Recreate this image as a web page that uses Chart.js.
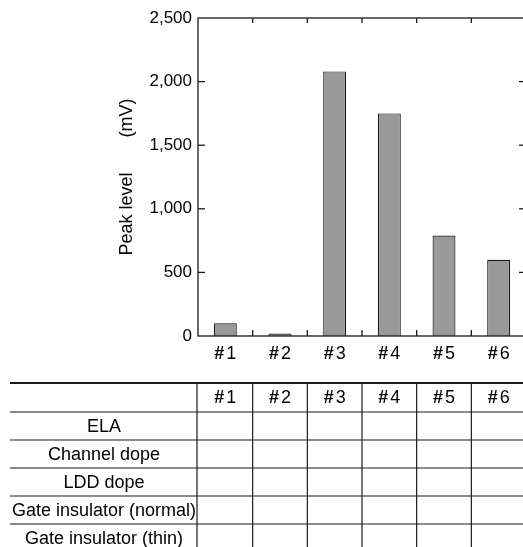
<!DOCTYPE html>
<html>
<head>
<meta charset="utf-8">
<title>Peak level</title>
<script src="https://cdn.jsdelivr.net/npm/chart.js@4.4.1/dist/chart.umd.min.js"></script>
<style>
    html, body { margin: 0; padding: 0; overflow: hidden; background: #fff; }
    #wrap { width: 523px; height: 547px; overflow: hidden; }
</style>
</head>
<body>
<div id="wrap"><canvas id="peakChart" width="526" height="547" style="width:526px;height:547px"></canvas></div>
<script>
// Data
const samples = ["1", "2", "3", "4", "5", "6"];
const peakLevel = [100, 20, 2080, 1750, 790, 600];
const yTicks = [0, 500, 1000, 1500, 2000, 2500];
const tableRows = [
    "ELA",
    "Channel dope",
    "LDD dope",
    "Gate insulator (normal)",
    "Gate insulator (thin)",
];

const FONT = "'Liberation Sans', Arial, sans-serif";
const INK = "#1a1a1a";

Chart.defaults.font.family = FONT;
Chart.defaults.color = "#000";

// "#" bold, digit regular, centred on cx
function drawSampleLabel(ctx, num, cx, cy, size) {
    ctx.save();
    ctx.textBaseline = "middle";
    ctx.textAlign = "left";
    ctx.font = "bold " + size + "px " + FONT;
    const w1 = ctx.measureText("#").width;
    ctx.font = size + "px " + FONT;
    const w2 = ctx.measureText(num).width;
    const gap = 2;
    const start = cx - (w1 + gap + w2) / 2;
    ctx.fillStyle = "#000";
    ctx.font = "bold " + size + "px " + FONT;
    ctx.fillText("#", start, cy);
    ctx.font = size + "px " + FONT;
    ctx.fillText(num, start + w1 + gap, cy);
    ctx.restore();
}

function line(ctx, x1, y1, x2, y2) {
    ctx.beginPath();
    ctx.moveTo(x1, y1);
    ctx.lineTo(x2, y2);
    ctx.stroke();
}

// Frame, inward ticks, category labels and the condition table under the chart
const frameAndTable = {
    id: "frameAndTable",
    afterDraw(chart) {
        const ctx = chart.ctx;
        const area = chart.chartArea;
        const x = chart.scales.x;
        const y = chart.scales.y;

        ctx.save();
        ctx.strokeStyle = INK;
        ctx.lineWidth = 1.3;
        ctx.strokeRect(area.left, area.top, area.right - area.left, area.bottom - area.top);

        // y ticks, pointing inward on both sides
        yTicks.slice(1, -1).forEach((v) => {
            const py = y.getPixelForValue(v);
            line(ctx, area.left, py, area.left + 7, py);
            line(ctx, area.right - 7, py, area.right, py);
        });

        // category boundaries, top and bottom
        const half = (x.getPixelForValue(1) - x.getPixelForValue(0)) / 2;
        for (let i = 0; i < samples.length - 1; i++) {
            const bx = x.getPixelForValue(i) + half;
            line(ctx, bx, area.top, bx, area.top + 5);
            line(ctx, bx, area.bottom - 6, bx, area.bottom);
        }

        samples.forEach((s, i) => {
            drawSampleLabel(ctx, s, x.getPixelForValue(i), area.bottom + 18, 18);
        });

        // table
        const top = 383;
        const headH = 29;
        const rowH = 28;
        const left = 10;
        const right = chart.width;

        ctx.lineWidth = 2;
        line(ctx, left, top, right, top);
        ctx.lineWidth = 1.2;
        for (let r = 0; r < tableRows.length; r++) {
            const ly = top + headH + r * rowH;
            line(ctx, left, ly, right, ly);
        }
        line(ctx, area.left - 1, top, area.left - 1, chart.height);
        for (let i = 0; i < samples.length - 1; i++) {
            const bx = x.getPixelForValue(i) + half;
            line(ctx, bx, top, bx, chart.height);
        }

        samples.forEach((s, i) => {
            drawSampleLabel(ctx, s, x.getPixelForValue(i), top + headH / 2 + 1, 18);
        });

        ctx.fillStyle = "#000";
        ctx.font = "18px " + FONT;
        ctx.textAlign = "center";
        ctx.textBaseline = "middle";
        const labelX = (left + area.left) / 2;
        tableRows.forEach((label, r) => {
            ctx.fillText(label, labelX, top + headH + r * rowH + rowH / 2 + 1);
        });
        ctx.restore();
    },
};

new Chart(document.getElementById("peakChart"), {
    type: "bar",
    data: {
        labels: samples.map((s) => "#" + s),
        datasets: [
            {
                data: peakLevel,
                backgroundColor: "#999999",
                borderColor: INK,
                borderWidth: 1.2,
                barPercentage: 0.42,
                categoryPercentage: 1.0,
            },
        ],
    },
    options: {
        responsive: false,
        devicePixelRatio: 1,
        animation: false,
        layout: { padding: { top: 18, right: 0, bottom: 0, left: 0 } },
        scales: {
            x: {
                offset: true,
                grid: { display: false },
                border: { display: false },
                ticks: { display: false },
                afterFit: (scale) => {
                    scale.height = 211;
                },
            },
            y: {
                min: 0,
                max: 2500,
                grid: { display: false, drawTicks: false },
                border: { display: false },
                afterBuildTicks: (scale) => {
                    scale.ticks = yTicks.map((v) => ({ value: v }));
                },
                ticks: {
                    padding: 6,
                    font: { size: 17 },
                    color: "#000",
                    callback: (v) => v.toLocaleString("en-US"),
                },
                title: {
                    display: true,
                    text: "Peak level       (mV)",
                    font: { size: 18 },
                    color: "#000",
                    padding: { top: 116, bottom: 0 },
                },
                afterFit: (scale) => {
                    scale.width = 198;
                },
            },
        },
        plugins: {
            legend: { display: false },
            tooltip: { enabled: false },
        },
    },
    plugins: [frameAndTable],
});
</script>
</body>
</html>
